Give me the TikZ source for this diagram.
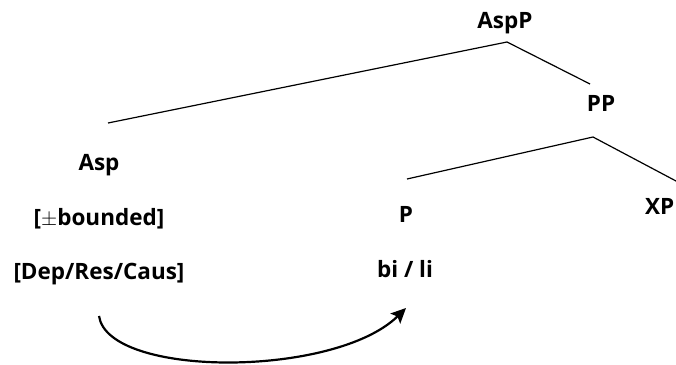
\documentclass[tikz,border=0pt]{standalone}
\usepackage{fontspec}
\setmainfont{Open Sans}
\usetikzlibrary{arrows.meta}
\begin{document}
\begin{tikzpicture}[x=1pt,y=-1pt,
  lbl/.style={font=\bfseries\fontsize{22.5}{26}\selectfont, inner sep=0pt, anchor=base},
  branch/.style={line width=1.2pt},
  mvarrow/.style={line width=2.2pt, -{Stealth[length=15pt,width=14pt,inset=3pt]}}]
\useasboundingbox (0,0) rectangle (676,364);
\node[lbl] (aspp) at (505,28) {AspP};
\node[lbl] (pp) at (601,111) {PP};
\node[lbl] (asp) at (99,170) {Asp};
\node[lbl] (bnd) at (99,225) {[$\pm$bounded]};
\node[lbl] (feat) at (99,279) {[Dep/Res/Caus]};
\node[lbl] (p) at (406,222) {P};
\node[lbl] (bili) at (405,277) {bi / li};
\node[lbl, anchor=base west] (xp) at (645,214) {XP};
\coordinate (top1) at (507,42);
\coordinate (l1) at (108,123);
\coordinate (r1) at (590,84);
\coordinate (top2) at (593,137);
\coordinate (l2) at (407,179);
\coordinate (r2) at (676,181);
\coordinate (arrS) at (99,316);
\coordinate (arrE) at (406,308);
\draw[mvarrow] (arrS) .. controls (108,378) and (335,378) .. (arrE);
\draw[branch] (l1) -- (top1) -- (r1);
\draw[branch] (l2) -- (top2) -- (r2);
\end{tikzpicture}
\end{document}
